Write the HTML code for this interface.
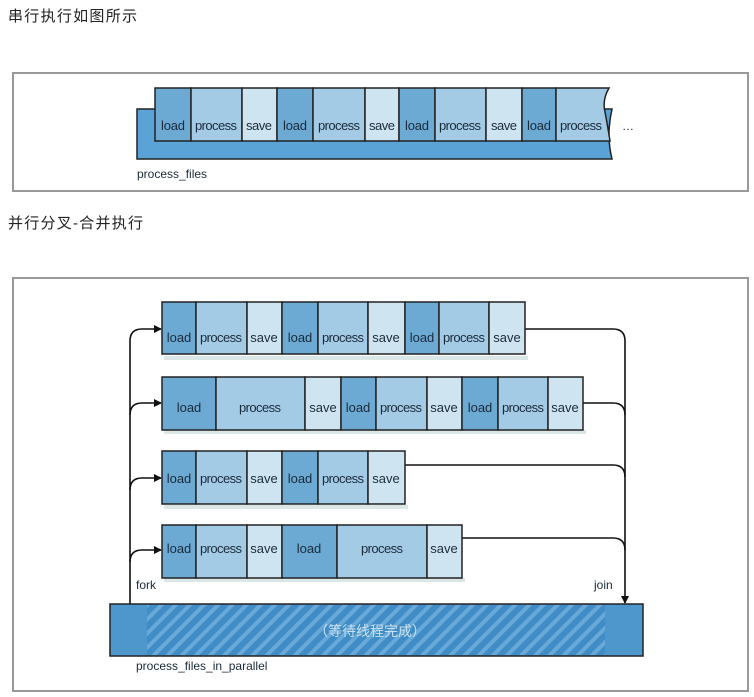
<!DOCTYPE html>
<html><head><meta charset="utf-8"><style>
html,body{margin:0;padding:0;background:#fff;}
svg{display:block;}
.h{font-family:"Liberation Sans","Noto Sans CJK SC",sans-serif;font-size:15px;fill:#222;}
.t{font-family:"Liberation Sans",sans-serif;font-size:12px;fill:#1a2a3a;}
.c{font-family:"Liberation Sans",sans-serif;font-size:13px;fill:#1a2a3a;}
</style></head><body>
<svg width="754" height="697" viewBox="0 0 754 697" xmlns="http://www.w3.org/2000/svg">
<defs>
<pattern id="hatch" patternUnits="userSpaceOnUse" width="10" height="10" patternTransform="rotate(45)">
<rect width="10" height="10" fill="#3f8cc6"/><rect width="4" height="10" fill="#69a9d8"/>
</pattern>
<marker id="ar" markerWidth="8" markerHeight="8" refX="7" refY="4" orient="auto" markerUnits="userSpaceOnUse"><path d="M0,0 L8,4 L0,8z" fill="#111"/></marker>
</defs>
<text class="h" x="8" y="21" textLength="129">串行执行如图所示</text>
<text class="h" x="8" y="228" textLength="135">并行分叉-合并执行</text>

<rect x="13" y="73" width="735" height="118" fill="#fff" stroke="#999" stroke-width="2"/>
<rect x="13" y="278" width="735" height="413" fill="#fff" stroke="#999" stroke-width="2"/>

<path d="M137,109 H612 Q606,135 612,159 H137z" fill="#5aa3d6" stroke="#222" stroke-width="1.5"/>
<g stroke="#222" stroke-width="1.5">
<rect x="155" y="88" width="36" height="53" fill="#6ca9d3"/>
<rect x="191" y="88" width="51" height="53" fill="#a4cbe6"/>
<rect x="242" y="88" width="35" height="53" fill="#cfe4f1"/>
<rect x="277" y="88" width="36" height="53" fill="#6ca9d3"/>
<rect x="313" y="88" width="52" height="53" fill="#a4cbe6"/>
<rect x="365" y="88" width="34" height="53" fill="#cfe4f1"/>
<rect x="399" y="88" width="36" height="53" fill="#6ca9d3"/>
<rect x="435" y="88" width="51" height="53" fill="#a4cbe6"/>
<rect x="486" y="88" width="36" height="53" fill="#cfe4f1"/>
<rect x="522" y="88" width="34" height="53" fill="#6ca9d3"/>
<path d="M556,88 H609 Q602,100 605,112 Q608,128 610,141 H556z" fill="#a4cbe6"/>
</g>
<g class="c" text-anchor="middle">
<text x="173" y="130" textLength="24">load</text><text x="216" y="130" textLength="42">process</text><text x="259" y="130" textLength="26">save</text>
<text x="295" y="130" textLength="24">load</text><text x="339" y="130" textLength="42">process</text><text x="382" y="130" textLength="26">save</text>
<text x="417" y="130" textLength="24">load</text><text x="460" y="130" textLength="42">process</text><text x="504" y="130" textLength="26">save</text>
<text x="539" y="130" textLength="24">load</text><text x="581" y="130" textLength="42">process</text>
</g>
<text class="t" x="622" y="130">…</text>
<text class="t" x="137" y="178">process_files</text>

<g fill="none" stroke="#111" stroke-width="1.6">
<path d="M130,604 V341 Q130,329 142,329 H161" marker-end="url(#ar)"/>
<path d="M130,415 Q130,403 142,403 H161" marker-end="url(#ar)"/>
<path d="M130,490 Q130,478 142,478 H161" marker-end="url(#ar)"/>
<path d="M130,562 Q130,550 142,550 H161" marker-end="url(#ar)"/>
<path d="M525,329 H613 Q625,329 625,341 V603" marker-end="url(#ar)"/>
<path d="M583,403 H613 Q625,403 625,415"/>
<path d="M405,465 H613 Q625,465 625,477"/>
<path d="M462,538 H613 Q625,538 625,550"/>
</g>
<g fill="#9bb" opacity="0.35">
<rect x="164" y="356" width="364" height="4"/><rect x="164" y="430" width="422" height="4"/>
<rect x="164" y="505" width="244" height="4"/><rect x="164" y="578" width="301" height="4"/>
</g>
<g stroke="#222" stroke-width="1.5">
<rect x="162" y="302" width="34" height="52" fill="#6ca9d3"/><rect x="196" y="302" width="51" height="52" fill="#a4cbe6"/><rect x="247" y="302" width="35" height="52" fill="#cfe4f1"/><rect x="282" y="302" width="36" height="52" fill="#6ca9d3"/><rect x="318" y="302" width="50" height="52" fill="#a4cbe6"/><rect x="368" y="302" width="37" height="52" fill="#cfe4f1"/><rect x="405" y="302" width="34" height="52" fill="#6ca9d3"/><rect x="439" y="302" width="50" height="52" fill="#a4cbe6"/><rect x="489" y="302" width="36" height="52" fill="#cfe4f1"/>
<rect x="162" y="377" width="54" height="53" fill="#6ca9d3"/><rect x="216" y="377" width="89" height="53" fill="#a4cbe6"/><rect x="305" y="377" width="36" height="53" fill="#cfe4f1"/><rect x="341" y="377" width="35" height="53" fill="#6ca9d3"/><rect x="376" y="377" width="51" height="53" fill="#a4cbe6"/><rect x="427" y="377" width="35" height="53" fill="#cfe4f1"/><rect x="462" y="377" width="36" height="53" fill="#6ca9d3"/><rect x="498" y="377" width="50" height="53" fill="#a4cbe6"/><rect x="548" y="377" width="35" height="53" fill="#cfe4f1"/>
<rect x="162" y="451" width="34" height="53" fill="#6ca9d3"/><rect x="196" y="451" width="51" height="53" fill="#a4cbe6"/><rect x="247" y="451" width="35" height="53" fill="#cfe4f1"/><rect x="282" y="451" width="36" height="53" fill="#6ca9d3"/><rect x="318" y="451" width="50" height="53" fill="#a4cbe6"/><rect x="368" y="451" width="37" height="53" fill="#cfe4f1"/>
<rect x="162" y="525" width="34" height="53" fill="#6ca9d3"/><rect x="196" y="525" width="51" height="53" fill="#a4cbe6"/><rect x="247" y="525" width="35" height="53" fill="#cfe4f1"/><rect x="282" y="525" width="55" height="53" fill="#6ca9d3"/><rect x="337" y="525" width="90" height="53" fill="#a4cbe6"/><rect x="427" y="525" width="35" height="53" fill="#cfe4f1"/>
</g>
<g class="c" text-anchor="middle">
<text x="179" y="342">load</text><text x="221" y="342" textLength="42">process</text><text x="264" y="342">save</text><text x="300" y="342">load</text><text x="343" y="342" textLength="42">process</text><text x="386" y="342">save</text><text x="422" y="342">load</text><text x="464" y="342" textLength="42">process</text><text x="507" y="342">save</text>
<text x="189" y="412">load</text><text x="260" y="412" textLength="42">process</text><text x="323" y="412">save</text><text x="358" y="412">load</text><text x="401" y="412" textLength="42">process</text><text x="444" y="412">save</text><text x="480" y="412">load</text><text x="523" y="412" textLength="42">process</text><text x="565" y="412">save</text>
<text x="179" y="483">load</text><text x="221" y="483" textLength="42">process</text><text x="264" y="483">save</text><text x="300" y="483">load</text><text x="343" y="483" textLength="42">process</text><text x="386" y="483">save</text>
<text x="179" y="553">load</text><text x="221" y="553" textLength="42">process</text><text x="264" y="553">save</text><text x="309" y="553">load</text><text x="382" y="553" textLength="42">process</text><text x="444" y="553">save</text>
</g>
<text class="t" x="136" y="589">fork</text>
<text class="t" x="594" y="589">join</text>
<rect x="110" y="604" width="533" height="52" fill="#4e97cd" stroke="#222" stroke-width="1.5"/>
<rect x="147" y="605" width="458" height="50" fill="url(#hatch)"/>
<text x="370" y="636" text-anchor="middle" font-family="'Liberation Sans','Noto Sans CJK SC',sans-serif" font-size="14" fill="#c9e0f0">（等待线程完成）</text>
<text class="t" x="136" y="670">process_files_in_parallel</text>
</svg>
</body></html>
